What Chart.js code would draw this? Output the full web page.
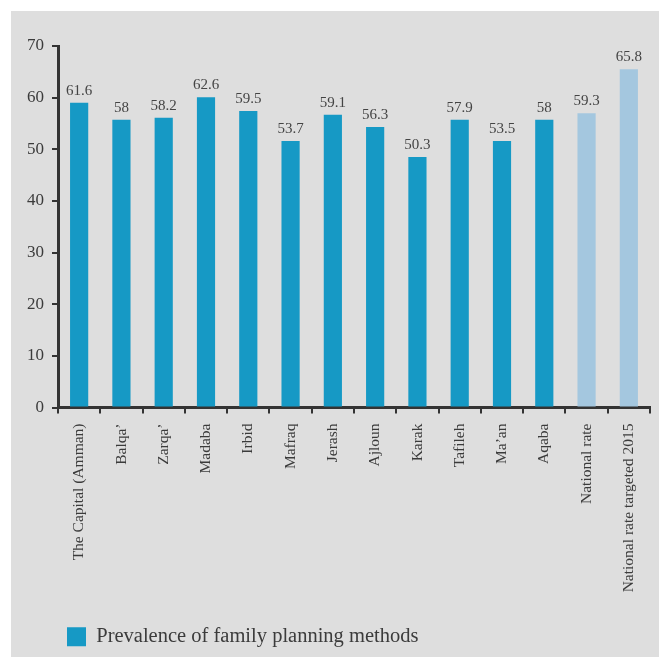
<!DOCTYPE html>
<html>
<head>
<meta charset="utf-8">
<script src="https://cdn.jsdelivr.net/npm/chart.js@4"></script>
<style>
  html, body { margin: 0; padding: 0; background: #ffffff; }
  #wrap { width: 659px; height: 657px; }
</style>
</head>
<body>
<div id="wrap"><canvas id="myChart" width="659" height="657"></canvas></div>
<script>
const categories = [
  "The Capital (Amman)", "Balqa’", "Zarqa’", "Madaba", "Irbid", "Mafraq",
  "Jerash", "Ajloun", "Karak", "Tafileh", "Ma’an", "Aqaba",
  "National rate", "National rate targeted 2015",
];
// bar heights as drawn in the picture
const barHeights = [59.0, 55.7, 56.1, 60.1, 57.4, 51.6, 56.7, 54.3, 48.5, 55.7, 51.6, 55.7, 57.0, 65.5];
// numbers printed above the bars
const valueLabels = ["61.6", "58", "58.2", "62.6", "59.5", "53.7", "59.1", "56.3", "50.3", "57.9", "53.5", "58", "59.3", "65.8"];
const isNational = [false, false, false, false, false, false, false, false, false, false, false, false, true, true];
const yTicks = [0, 10, 20, 30, 40, 50, 60, 70];
const seriesName = "Prevalence of family planning methods";

const textColor = "#3b3b3b";
const axisColor = "#333333";
const serif = "'Liberation Serif', 'Times New Roman', serif";

const panelBackground = {
  id: "panelBackground",
  beforeDraw(chart) {
    const ctx = chart.ctx;
    ctx.save();
    ctx.fillStyle = "#ffffff";
    ctx.fillRect(0, 0, chart.width, chart.height);
    ctx.fillStyle = "#dedede";
    ctx.fillRect(11, 11, chart.width - 11, chart.height - 11);
    ctx.restore();
  },
};

// push the legend in so its box sits under the first bar
const legendShift = {
  id: "legendShift",
  afterLayout(chart) {
    chart.legend.left = 51;
  },
};

const barValues = {
  id: "barValues",
  afterDatasetsDraw(chart) {
    const ctx = chart.ctx;
    const meta = chart.getDatasetMeta(0);
    ctx.save();
    ctx.font = "15px " + serif;
    ctx.fillStyle = "#444444";
    ctx.textAlign = "center";
    ctx.textBaseline = "alphabetic";
    meta.data.forEach((bar, i) => {
      ctx.fillText(valueLabels[i], bar.x, bar.y - 8);
    });
    ctx.restore();
  },
};

const ctx = document.getElementById("myChart").getContext("2d");
const myChart = new Chart(ctx, {
  type: "bar",
  data: {
    labels: categories,
    datasets: [
      {
        label: seriesName,
        data: barHeights,
        backgroundColor: isNational.map((n) => (n ? "#a4c7df" : "#1699c5")),
        borderWidth: 0,
        categoryPercentage: 1,
        barPercentage: 0.43,
      },
    ],
  },
  options: {
    responsive: false,
    animation: false,
    layout: {
      padding: { left: 11, top: 46, right: 9, bottom: 0 },
    },
    plugins: {
      tooltip: { enabled: false },
      legend: {
        display: true,
        position: "bottom",
        align: "start",
        labels: {
          boxWidth: 19,
          boxHeight: 19,
          padding: 16,
          color: textColor,
          font: { family: serif, size: 20.5 },
        },
      },
    },
    scales: {
      y: {
        min: 0,
        max: 70,
        afterFit: (scale) => {
          scale.width = 47;
        },
        afterBuildTicks: (scale) => {
          scale.ticks = yTicks.map((v) => ({ value: v }));
        },
        ticks: {
          color: textColor,
          padding: 8,
          font: { family: serif, size: 17 },
        },
        grid: {
          drawOnChartArea: false,
          drawTicks: true,
          tickLength: 6,
          color: axisColor,
          lineWidth: 2,
        },
        border: { display: true, color: axisColor, width: 3 },
      },
      x: {
        afterFit: (scale) => {
          scale.height = 203;
        },
        ticks: {
          color: textColor,
          autoSkip: false,
          minRotation: 90,
          maxRotation: 90,
          padding: 10,
          font: { family: serif, size: 15.5 },
        },
        grid: {
          offset: true,
          drawOnChartArea: false,
          drawTicks: true,
          tickLength: 6,
          color: axisColor,
          lineWidth: 2,
        },
        border: { display: true, color: axisColor, width: 3 },
      },
    },
  },
  plugins: [panelBackground, legendShift, barValues],
});
</script>
</body>
</html>
